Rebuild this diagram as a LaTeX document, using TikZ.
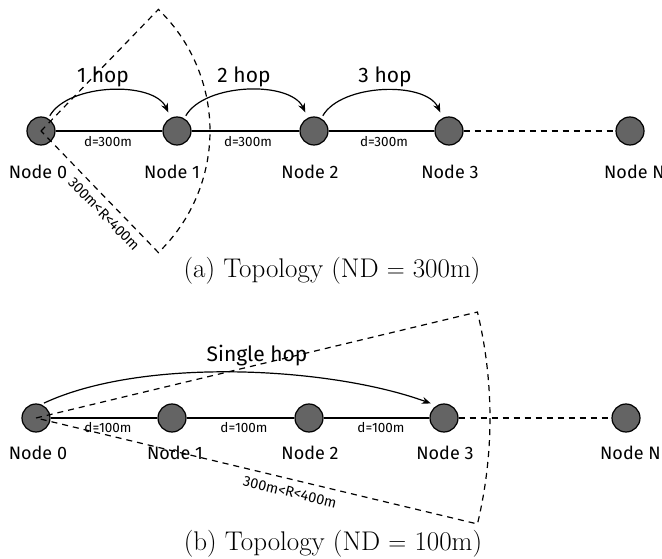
\documentclass[tikz,border=0pt]{standalone}
\usepackage{fontspec}
\newfontfamily\nodefont{Fira Sans}
\usetikzlibrary{arrows.meta}
\definecolor{nodegray}{RGB}{100,100,100}
\tikzset{
  netnode/.style={circle,draw=black,fill=nodegray,line width=1.2pt,minimum size=28pt,inner sep=0pt},
  nodelabel/.style={font=\nodefont\fontsize{18}{20}\selectfont,inner sep=0pt},
  distlabel/.style={font=\nodefont\fontsize{13.5}{15}\selectfont,inner sep=0pt},
  hoplabel/.style={font=\nodefont\fontsize{21}{24}\selectfont,inner sep=0pt},
  rangelabel/.style={font=\nodefont\fontsize{14.5}{16}\selectfont,inner sep=0pt},
  caption/.style={font=\fontsize{27}{30}\selectfont,inner sep=0pt},
  link/.style={line width=1.2pt},
  dlink/.style={line width=1.2pt,dash pattern=on 6pt off 5pt},
  hoparrow/.style={line width=1.2pt,-{Stealth[length=9pt,width=7pt]},shorten >=6pt,shorten <=3pt},
}
\begin{document}
\begin{tikzpicture}[x=1pt,y=1pt]
\useasboundingbox (0,0) rectangle (662,558);
% ---------- panel (a) ----------
\node[netnode] (a0) at (41,427) {};
\node[netnode] (a1) at (177,427) {};
\node[netnode] (a2) at (314,427) {};
\node[netnode] (a3) at (449,427) {};
\node[netnode] (aN) at (630,427) {};
\draw[link] (a0) -- (a1) -- (a2) -- (a3);
\draw[dlink] (a3) -- (aN);
\node[nodelabel] (la0) at (38,386) {Node 0};
\node[nodelabel] (la1) at (172,386) {Node 1};
\node[nodelabel] (la2) at (310,386) {Node 2};
\node[nodelabel] (la3) at (450,386) {Node 3};
\node[nodelabel,anchor=west] (laN) at (604,386) {Node N};
\node[distlabel] (da1) at (108,416) {d=300m};
\node[distlabel] (da2) at (248,416) {d=300m};
\node[distlabel] (da3) at (384,416) {d=300m};
\node[hoplabel] (ha1) at (103,481) {1 hop};
\node[hoplabel] (ha2) at (244,481) {2 hop};
\node[hoplabel] (ha3) at (385,481) {3 hop};
\draw[hoparrow] (a0) to[out=60,in=115,looseness=0.85] (a1);
\draw[hoparrow] (a1) to[out=60,in=115,looseness=0.85] (a2);
\draw[hoparrow] (a2) to[out=60,in=115,looseness=0.85] (a3);
\draw[dlink] (a0.center) -- ++(46:169) arc[start angle=46,end angle=-46,radius=169] -- cycle;
\node[rangelabel,rotate=-46] (ra) at (104,344) {300m<R<400m};
\node[caption] (capa) at (332,287) {(a) Topology (ND $=$ 300m)};
% ---------- panel (b) ----------
\node[netnode] (b0) at (36,140) {};
\node[netnode] (b1) at (172,140) {};
\node[netnode] (b2) at (309,140) {};
\node[netnode] (b3) at (444,140) {};
\node[netnode] (bN) at (626,140) {};
\draw[link] (b0) -- (b1) -- (b2) -- (b3);
\draw[dlink] (b3) -- (bN);
\node[nodelabel] (lb0) at (38,105) {Node 0};
\node[nodelabel] (lb1) at (175,105) {Node 1};
\node[nodelabel] (lb2) at (310,105) {Node 2};
\node[nodelabel] (lb3) at (445,105) {Node 3};
\node[nodelabel,anchor=west] (lbN) at (600,105) {Node N};
\node[distlabel] (db1) at (108,130) {d=100m};
\node[distlabel] (db2) at (244,130) {d=100m};
\node[distlabel] (db3) at (381,130) {d=100m};
\node[hoplabel] (hb) at (257,202) {Single hop};
\draw[hoparrow] (b0.69) to[out=25,in=160,looseness=0.73] (b3.121);
\draw[dlink] (b0.center) -- ++(13.5:454) arc[start angle=13.5,end angle=-13.5,radius=454] -- cycle;
\node[rangelabel,rotate=-13.5] (rb) at (290,66) {300m<R<400m};
\node[caption] (capb) at (333,14) {(b) Topology (ND $=$ 100m)};
\end{tikzpicture}
\end{document}
